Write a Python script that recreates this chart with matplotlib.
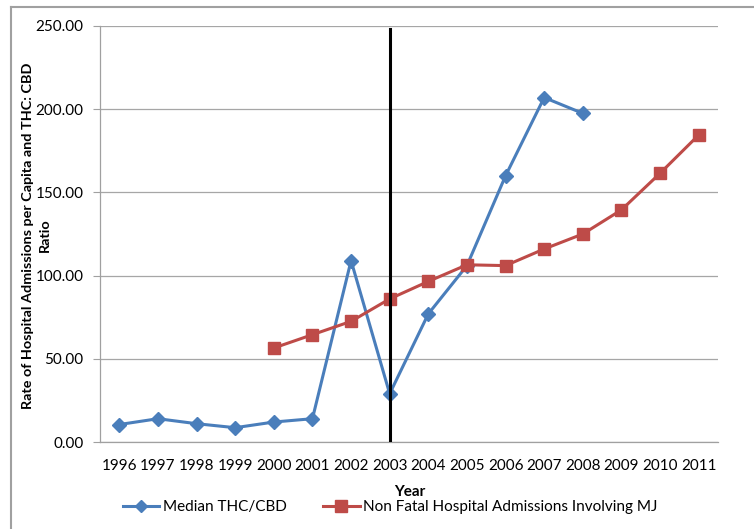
import matplotlib
matplotlib.use("Agg")
import matplotlib.pyplot as plt
from matplotlib.lines import Line2D

years = ["1996", "1997", "1998", "1999", "2000", "2001", "2002", "2003",
         "2004", "2005", "2006", "2007", "2008", "2009", "2010", "2011"]
thc_cbd_years = years[:13]
thc_cbd = [10.5, 14.0, 11.0, 8.6, 12.0, 14.0, 109.0, 29.0, 77.0, 106.0, 160.0, 207.0, 197.5]
hosp_years = years[4:]
hospital = [56.5, 64.5, 72.5, 86.0, 96.5, 106.5, 106.0, 116.0, 125.0, 139.5, 161.5, 184.5]
marker_year = "2003"
marker_top = 248.0
yticks = [0, 50, 100, 150, 200, 250]
ylabel_lines = ["Rate of Hospital Admissions per Capita and THC: CBD", "Ratio"]

blue = "#4A7EBB"
red = "#BE4B48"

fig = plt.figure(figsize=(7.54, 5.29), dpi=100)
ax = fig.add_axes([100/754, 1-442/529, 618/754, 416/529])

xpos = {y: i for i, y in enumerate(years)}
ax.plot([xpos[y] for y in thc_cbd_years], thc_cbd, color=blue, lw=2.2,
        marker="D", ms=7.5, mfc=blue, mec=blue, zorder=3)
ax.plot([xpos[y] for y in hosp_years], hospital, color=red, lw=2.2,
        marker="s", ms=9, mfc=red, mec=red, zorder=3)
ax.plot([xpos[marker_year]] * 2, [0, marker_top], color="black", lw=2.2, zorder=4)

ax.set_xlim(-0.5, len(years) - 0.5)
ax.set_ylim(0, 250)
ax.set_xticks(range(len(years)))
ax.set_xticklabels(years, fontsize=11, family="Lato")
ax.set_yticks(yticks)
ax.set_yticklabels([f"{v:.2f}" for v in yticks], fontsize=11, family="Lato")
ax.tick_params(axis="x", length=0, pad=12)
ax.tick_params(axis="y", length=5, color="#A0A0A0", pad=7)
ax.grid(axis="y", color="#A6A6A6", lw=0.9)
ax.set_axisbelow(True)
for s in ["top", "right"]:
    ax.spines[s].set_visible(False)
for s in ["left", "bottom"]:
    ax.spines[s].set_color("#A0A0A0")
    ax.spines[s].set_linewidth(0.9)

fig.text(28.5/754, 1-235.5/529, ylabel_lines[0], rotation=90, ha="center", va="center",
         fontsize=10.4, fontweight="bold", family="Lato")
fig.text(45/754, 1-235.5/529, ylabel_lines[1], rotation=90, ha="center", va="center",
         fontsize=10.4, fontweight="bold", family="Lato")
fig.text(410/754, 1-492/529, "Year", ha="center", va="center", fontsize=11,
         fontweight="bold", family="Lato")

handles = [Line2D([], [], color=blue, lw=2.2, marker="D", ms=6),
           Line2D([], [], color=red, lw=2.2, marker="s", ms=8)]
fig.legend(handles, ["Median THC/CBD", "Non Fatal Hospital Admissions Involving MJ"],
           loc="center", bbox_to_anchor=(390/754, 1-507/529), ncol=2, frameon=False,
           prop={"family": "Lato", "size": 11}, handlelength=2.4, handletextpad=0.2,
           columnspacing=2.4)

# outer frame (top and left edges visible)
fig.add_artist(Line2D([11/754, 1], [1-7/529, 1-7/529], color="#A0A0A0", lw=1.5,
                      transform=fig.transFigure))
fig.add_artist(Line2D([11/754, 11/754], [0, 1-7/529], color="#A0A0A0", lw=1.5,
                      transform=fig.transFigure))

fig.savefig("out.png", dpi=100)
